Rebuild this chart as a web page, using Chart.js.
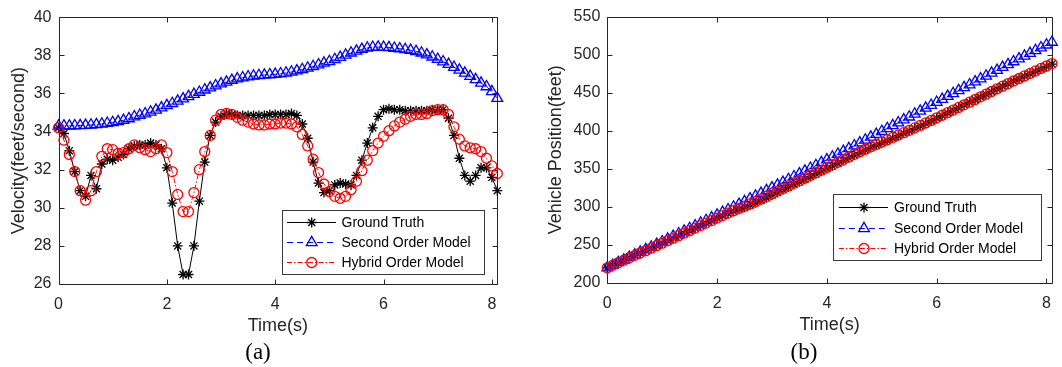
<!DOCTYPE html>
<html><head><meta charset="utf-8">
<script src="https://cdn.jsdelivr.net/npm/chart.js@4.4.1/dist/chart.umd.min.js"></script>
<style>
html,body{margin:0;padding:0;background:#fff}
body{width:1062px;height:367px;overflow:hidden;position:relative;font-family:"Liberation Sans",Arial,sans-serif}
#wa{position:absolute;left:0;top:0;width:530px;height:367px}
#wb{position:absolute;left:530px;top:0;width:532px;height:367px}
.cap{position:absolute;font-family:"Liberation Serif","Times New Roman",serif;font-size:23px;color:#000;width:60px;text-align:center;line-height:26px}
</style></head><body>
<div id="wa"><canvas id="ca" width="530" height="367"></canvas></div>
<div id="wb"><canvas id="cb" width="532" height="367"></canvas></div>
<div class="cap" style="left:228px;top:339px">(a)</div>
<div class="cap" style="left:774px;top:339px">(b)</div>
<script>
// ---- data ----
const time = [0,0.1,0.2,0.3,0.4,0.5,0.6,0.7,0.8,0.9,
1.0,1.1,1.2,1.3,1.4,1.5,1.6,1.7,1.8,1.9,
2.0,2.1,2.2,2.3,2.4,2.5,2.6,2.7,2.8,2.9,
3.0,3.1,3.2,3.3,3.4,3.5,3.6,3.7,3.8,3.9,
4.0,4.1,4.2,4.3,4.4,4.5,4.6,4.7,4.8,4.9,
5.0,5.1,5.2,5.3,5.4,5.5,5.6,5.7,5.8,5.9,
6.0,6.1,6.2,6.3,6.4,6.5,6.6,6.7,6.8,6.9,
7.0,7.1,7.2,7.3,7.4,7.5,7.6,7.7,7.8,7.9,
8.0,8.1];

const velGround = [34.2,33.9,33.0,31.9,30.9,30.6,31.7,31.0,32.3,32.55,
32.5,32.65,32.8,33.1,33.25,33.3,33.3,33.4,33.3,33.1,
32.1,30.25,28.0,26.5,26.5,28.0,30.35,32.4,33.8,34.5,
34.8,34.95,34.9,34.85,34.85,34.85,34.85,34.85,34.85,34.9,
34.9,34.9,34.9,34.95,34.85,34.4,33.65,32.4,31.3,30.8,
30.9,31.2,31.3,31.25,31.2,31.7,32.5,33.4,34.2,34.8,
35.15,35.2,35.15,35.15,35.1,35.1,35.1,35.1,35.1,35.15,
35.15,35.15,34.7,33.8,32.6,31.7,31.4,31.7,32.1,32.1,
31.6,30.9];

const velSecond = [34.3,34.3,34.3,34.31,34.32,34.33,34.35,34.37,34.4,34.44,
34.48,34.53,34.59,34.68,34.78,34.86,34.94,35.03,35.13,35.25,
35.37,35.48,35.6,35.72,35.84,35.96,36.07,36.19,36.3,36.41,
36.51,36.6,36.69,36.77,36.83,36.88,36.92,36.95,36.97,36.99,
37.01,37.04,37.08,37.13,37.19,37.26,37.34,37.42,37.51,37.6,
37.68,37.79,37.9,38.02,38.13,38.23,38.32,38.39,38.43,38.44,
38.43,38.41,38.38,38.35,38.31,38.27,38.21,38.13,38.03,37.92,
37.8,37.67,37.53,37.38,37.23,37.07,36.9,36.73,36.55,36.36,
36.1,35.75];

const velHybrid = [34.2,33.55,32.8,31.9,30.9,30.4,30.9,31.9,32.7,33.1,
33.05,32.85,32.9,33.1,33.3,33.15,33.05,32.95,33.1,33.3,
32.9,31.9,30.7,29.8,29.8,30.8,32.0,32.95,33.8,34.6,
34.9,34.95,34.9,34.75,34.6,34.5,34.4,34.35,34.35,34.4,
34.4,34.45,34.45,34.4,34.25,33.85,33.25,32.55,31.85,31.25,
30.85,30.6,30.5,30.6,30.95,31.4,31.95,32.5,33.0,33.4,
33.75,34.05,34.3,34.5,34.65,34.8,34.9,34.9,34.95,35.1,
35.15,35.15,34.9,34.25,33.6,33.25,33.15,33.1,32.95,32.6,
32.2,31.8];

const posGround = [220,223.4,226.8,230.1,233.3,236.4,239.5,242.6,245.7,248.9,
252.2,255.4,258.7,262.0,265.3,268.6,271.9,275.3,278.6,281.9,
285.2,288.4,291.4,294.2,296.9,299.6,302.4,305.4,308.6,312.0,
315.5,319.0,322.5,326.0,329.5,332.9,336.4,339.9,343.4,346.9,
350.4,353.9,357.4,360.9,364.4,367.8,371.3,374.6,377.9,381.0,
384.1,387.2,390.3,393.5,396.6,399.7,402.9,406.2,409.5,412.9,
416.4,419.9,423.4,426.9,430.4,433.9,437.4,440.9,444.4,447.9,
451.4,454.9,458.4,461.9,465.3,468.5,471.7,474.8,478.0,481.2,
484.4,487.6];

const posSecond = [220,223.4,226.9,230.3,233.7,237.1,240.6,244.0,247.4,250.9,
254.3,257.8,261.3,264.8,268.2,271.7,275.2,278.7,282.2,285.7,
289.2,292.8,296.3,299.9,303.4,307.0,310.6,314.2,317.8,321.4,
325.0,328.7,332.3,336.0,339.7,343.4,347.1,350.8,354.5,358.2,
361.9,365.6,369.3,373.0,376.7,380.4,384.2,387.9,391.7,395.4,
399.2,403.0,406.8,410.6,414.4,418.2,422.1,425.9,429.8,433.6,
437.5,441.3,445.2,449.0,452.9,456.7,460.5,464.3,468.2,472.0,
475.8,479.5,483.3,487.0,490.8,494.5,498.2,501.8,505.5,509.1,
512.8,516.4];

const posHybrid = [220,223.4,226.7,230.0,233.2,236.3,239.4,242.5,245.7,249.0,
252.3,255.6,258.9,262.2,265.5,268.8,272.1,275.4,278.7,282.0,
285.3,288.6,291.8,294.9,297.9,300.9,303.9,307.1,310.4,313.8,
317.3,320.8,324.3,327.7,331.2,334.6,338.1,341.5,344.9,348.4,
351.8,355.2,358.7,362.1,365.6,369.0,372.4,375.7,378.9,382.1,
385.2,388.3,391.3,394.4,397.5,400.6,403.8,407.0,410.3,413.6,
417.0,420.4,423.8,427.2,430.7,434.1,437.6,441.1,444.6,448.1,
451.6,455.1,458.6,462.0,465.4,468.7,472.0,475.3,478.6,481.9,
485.1,488.3];

const seriesNames = ['Ground Truth','Second Order Model','Hybrid Order Model'];
const xTickStep = 2, xMin = 0, xMax = 8.1;
const velRange = [26, 40], velStep = 2;
const posRange = [200, 550], posStep = 50;

// ---- drawing ----
const FONT = '"Liberation Sans", Arial, sans-serif';
const AX = '#262626';

function pts(ys){ return ys.map((v,i)=>({x:time[i], y:v})); }

const framePlugin = {
  id:'frameTicks',
  beforeDatasetsDraw(chart){
    const {ctx, chartArea:a, scales:{x, y}} = chart;
    ctx.save();
    ctx.strokeStyle = AX; ctx.lineWidth = 1; ctx.setLineDash([]);
    const L = Math.round(a.left)+0.5, R = Math.round(a.right)+0.5, T = Math.round(a.top)+0.5, B = Math.round(a.bottom)+0.5;
    ctx.beginPath();
    ctx.rect(L, T, R-L, B-T);
    const tl = 5;
    x.ticks.forEach(t=>{
      const px = Math.round(x.getPixelForValue(t.value))+0.5;
      ctx.moveTo(px, B); ctx.lineTo(px, B-tl);
      ctx.moveTo(px, T); ctx.lineTo(px, T+tl);
    });
    y.ticks.forEach(t=>{
      const py = Math.round(y.getPixelForValue(t.value))+0.5;
      ctx.moveTo(L, py); ctx.lineTo(L+tl, py);
      ctx.moveTo(R, py); ctx.lineTo(R-tl, py);
    });
    ctx.stroke();
    ctx.restore();
  }
};

function drawMarker(ctx, style, r, x, y, bw){
  if (Chart.helpers && Chart.helpers.drawPoint){
    ctx.lineWidth = bw;
    Chart.helpers.drawPoint(ctx, {pointStyle:style, radius:r, rotation:0, borderWidth:bw}, x, y);
    return;
  }
  ctx.lineWidth = bw;
  ctx.beginPath();
  if (style==='circle'){ ctx.arc(x,y,r,0,Math.PI*2); }
  else if (style==='triangle'){
    ctx.moveTo(x, y-r); ctx.lineTo(x+r*0.866, y+r/2); ctx.lineTo(x-r*0.866, y+r/2); ctx.closePath();
  } else {
    for (let k=0;k<4;k++){ const an=k*Math.PI/4; ctx.moveTo(x-Math.cos(an)*r,y-Math.sin(an)*r); ctx.lineTo(x+Math.cos(an)*r,y+Math.sin(an)*r); }
  }
  ctx.stroke();
}

function legendPlugin(L){
  return {
    id:'boxLegend',
    afterDatasetsDraw(chart){
      const ctx = chart.ctx;
      ctx.save();
      ctx.fillStyle = '#fff';
      ctx.fillRect(L.x, L.y, L.w, L.h);
      ctx.strokeStyle = '#3a3a3a'; ctx.lineWidth = 1; ctx.setLineDash([]);
      ctx.strokeRect(Math.round(L.x)+0.5, Math.round(L.y)+0.5, Math.round(L.w), Math.round(L.h));
      chart.data.datasets.forEach((ds, i)=>{
        const yy = Math.round(L.rows[i])+0.5;
        ctx.strokeStyle = ds.borderColor; ctx.lineWidth = 1;
        ctx.setLineDash(ds.borderDash || []);
        ctx.beginPath(); ctx.moveTo(L.x0, yy); ctx.lineTo(L.x1, yy); ctx.stroke();
        ctx.setLineDash([]);
        ctx.fillStyle = 'rgba(0,0,0,0)';
        ctx.strokeStyle = ds.pointBorderColor;
        drawMarker(ctx, ds.pointStyle, ds.pointRadius, L.xm, yy, ds.pointBorderWidth);
        ctx.fillStyle = '#000';
        ctx.font = '14px ' + FONT;
        ctx.textBaseline = 'middle'; ctx.textAlign = 'left';
        ctx.fillText(ds.label, L.xt, yy+0.5);
      });
      ctx.restore();
    }
  };
}

function makeChart(id, g, s, h, yr, ystep, ytitle, cfg){
  return new Chart(document.getElementById(id), {
    type:'line',
    data:{datasets:[
      {label:seriesNames[0], data:pts(g), borderColor:'#000000', borderWidth:1, pointStyle:'star', pointRadius:5,
       pointBorderColor:'#000000', pointBackgroundColor:'rgba(0,0,0,0)', pointBorderWidth:1.3, order:2, clip:false, tension:0},
      {label:seriesNames[1], data:pts(s), borderColor:'#0000FF', borderWidth:1, borderDash:[6,4], pointStyle:'triangle', pointRadius:6.2,
       pointBorderColor:'#0000FF', pointBackgroundColor:'rgba(0,0,0,0)', pointBorderWidth:1.3, order:1, clip:false, tension:0},
      {label:seriesNames[2], data:pts(h), borderColor:'#FF0000', borderWidth:1, borderDash:[5,2,1.5,2], pointStyle:'circle', pointRadius:5,
       pointBorderColor:'#FF0000', pointBackgroundColor:'rgba(0,0,0,0)', pointBorderWidth:1.3, order:0, clip:false, tension:0}
    ]},
    options:{
      responsive:false, animation:false, devicePixelRatio:1,
      layout:{padding:cfg.pad},
      plugins:{legend:{display:false}, tooltip:{enabled:false}},
      events:[],
      scales:{
        x:{type:'linear', min:xMin, max:xMax,
           afterFit(sc){ sc.height = 52.8; },
           grid:{display:false, drawTicks:false}, border:{display:false},
           ticks:{stepSize:xTickStep, includeBounds:false, padding:cfg.xpad, color:AX, font:{family:FONT, size:16}, maxRotation:0},
           title:{display:true, text:'Time(s)', color:AX, font:{family:FONT, size:18}, padding:{top:0, bottom:0}}},
        y:{type:'linear', min:yr[0], max:yr[1],
           afterFit(sc){ sc.width = cfg.yw; },
           grid:{display:false, drawTicks:false}, border:{display:false},
           ticks:{stepSize:ystep, includeBounds:false, padding:7, color:AX, font:{family:FONT, size:16}},
           title:{display:true, text:ytitle, color:AX, font:{family:FONT, size:18}, padding:{top:cfg.ytp, bottom:0}}}
      }
    },
    plugins:[framePlugin, legendPlugin(cfg.legend)]
  });
}

makeChart('ca', velGround, velSecond, velHybrid, velRange, velStep, 'Velocity(feet/second)', {
  pad:{left:0, right:32.7, top:17.3, bottom:30.2}, yw:58.5, ytp:8, xpad:11,
  legend:{x:282.3, y:210, w:202, h:64, rows:[222.3,242.3,262.3], x0:287, x1:336, xm:311.7, xt:341.5}
});
makeChart('cb', posGround, posSecond, posHybrid, posRange, posStep, 'Vehicle Position(feet)', {
  pad:{left:0, right:3.5, top:13.5, bottom:31.2}, yw:77.3, ytp:15.5, xpad:11,
  legend:{x:303, y:194.3, w:207.7, h:65.7, rows:[207.3,228,248.3], x0:308.8, x1:358, xm:334, xt:364}
});
</script>
</body></html>
